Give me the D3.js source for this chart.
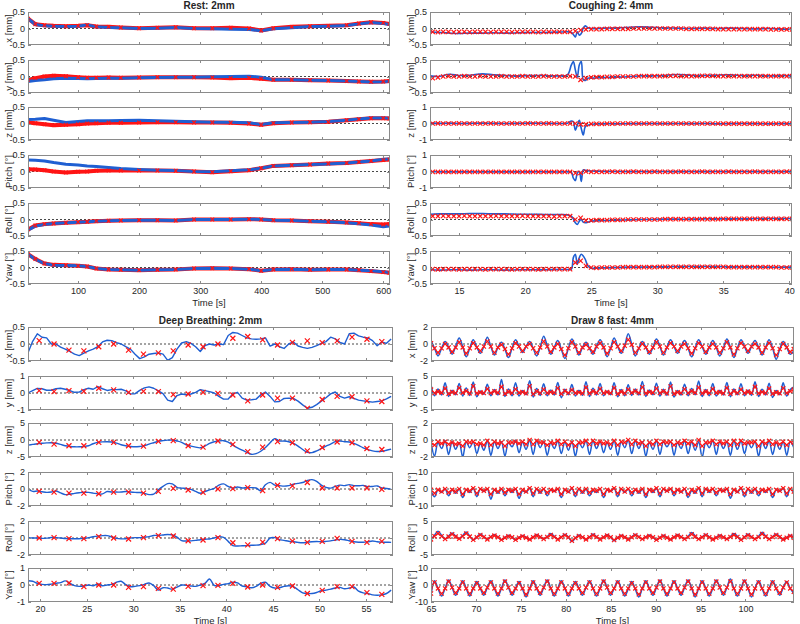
<!DOCTYPE html>
<meta charset="UTF-8">
<html>
<head>
  <style>
    body { margin: 0; background: #fff; }
    svg text { font-family: "Liberation Sans", Arial, sans-serif; fill: #262626; }
    .title { font-size: 10px; font-weight: bold; }
    .lab { font-size: 9.5px; }
    .tk { font-size: 9px; }
  </style>
</head>
<body>
<svg id="chart" width="800" height="624"></svg>
<script src="https://d3js.org/d3.v7.min.js"></script>
<script>
// ---------------- Rest: 2mm ----------------
const tRest = [18,30,45,60,80,100,115,130,150,170,200,230,260,290,320,350,380,400,420,450,480,510,540,560,580,600,610];
const restXBlue = [.30,.12,.08,.07,.06,.07,.11,.05,.03,.02,.00,.01,.03,.00,-.01,-.02,-.03,-.07,-.01,.02,.06,.07,.09,.14,.18,.15,.12];
const restXRed  = [.30,.13,.10,.08,.07,.08,.10,.06,.05,.03,.01,.02,.04,.01,.01,.02,.00,-.06,.01,.05,.07,.08,.10,.15,.19,.17,.14];
const restYBlue = [-.15,-.12,-.10,-.07,-.05,-.06,-.07,-.06,-.05,-.05,-.04,-.03,-.02,-.02,-.01,.00,.01,-.02,-.10,-.10,-.11,-.12,-.14,-.15,-.17,-.16,-.15];
const restYRed  = [-.10,-.05,.00,.02,.01,-.02,-.04,-.04,-.03,-.04,-.03,-.02,-.02,-.02,-.03,-.05,-.04,-.07,-.10,-.10,-.11,-.12,-.14,-.15,-.16,-.15,-.14];
const restZBlue = [.12,.13,.15,.10,.03,.06,.08,.08,.08,.09,.10,.08,.07,.05,.04,.04,.02,-.03,.02,.03,.04,.06,.10,.14,.17,.17,.16];
const restZRed  = [.03,.01,-.02,-.05,-.04,-.02,.00,.01,.02,.02,.03,.04,.04,.03,.03,.02,.00,-.04,.01,.03,.04,.05,.10,.13,.16,.16,.15];
const restPitchBlue = [.35,.34,.32,.27,.22,.20,.17,.15,.12,.09,.06,.04,.03,.00,-.01,.02,.05,.10,.17,.19,.21,.23,.26,.29,.32,.37,.38];
const restPitchRed  = [.07,.06,.04,.00,-.03,-.01,.00,.02,.03,.03,.03,.03,.02,.00,-.02,.01,.04,.10,.17,.19,.21,.24,.26,.29,.32,.35,.36];
const restRollBlue = [-.32,-.20,-.15,-.12,-.10,-.08,-.07,-.05,-.04,-.03,-.02,-.02,-.03,.00,.00,.00,.01,.00,-.02,-.03,-.05,-.07,-.10,-.13,-.17,-.22,-.20];
const restRollRed  = [-.30,-.18,-.14,-.12,-.10,-.08,-.07,-.05,-.04,-.03,-.02,-.02,-.03,.00,.00,.00,.01,.00,-.02,-.03,-.05,-.07,-.09,-.11,-.14,-.15,-.14];
const restYawBlue = [.40,.25,.12,.07,.06,.05,.03,-.03,-.06,-.07,-.08,-.07,-.06,-.03,-.02,-.03,-.05,-.10,-.06,-.05,-.07,-.06,-.06,-.08,-.10,-.13,-.15];
const restYawRed  = [.40,.26,.12,.08,.07,.05,.03,-.03,-.06,-.07,-.08,-.07,-.06,-.03,-.02,-.03,-.05,-.10,-.06,-.05,-.07,-.06,-.06,-.08,-.11,-.14,-.16];

// ---------------- Coughing 2: 4mm ----------------
const tCoughBlue = [12.8,13.5,14.3,15.0,15.8,16.8,17.6,18.5,19.5,20.5,21.5,22.5,23.2,23.5,23.65,23.8,23.95,24.1,24.25,24.4,24.55,24.75,25.0,25.5,26.0,27.0,28.0,28.7,29.5,30.5,31.5,32.5,33.5,34.5,35.5,36.5,37.5,38.5,39.5,40.2];
const tCoughRed = [13.0,13.4,13.8,14.2,14.6,15.0,15.4,15.8,16.2,16.6,17.0,17.4,17.8,18.2,18.6,19.0,19.4,19.8,20.2,20.6,21.0,21.4,21.8,22.2,22.6,23.0,23.4,
  23.8,24.2,24.6,
  25.0,25.4,25.8,26.2,26.6,27.0,27.4,27.8,28.2,28.6,29.0,29.4,29.8,30.2,30.6,31.0,31.4,31.8,32.2,32.6,33.0,33.4,33.8,34.2,34.6,35.0,35.4,35.8,36.2,36.6,37.0,37.4,37.8,38.2,38.6,39.0,39.4,39.8,40.2];
const coughXBlue = [-.10,-.12,-.14,-.15,-.14,-.14,-.13,-.14,-.13,-.12,-.12,-.11,-.10,-.12,
  -.18,-.26,-.10,-.20,-.15,.02,.08,.02,
  .00,.00,.01,.02,.04,.05,.04,.02,.01,.00,.01,.00,.01,.00,-.01,.00,-.02,-.02];
const coughXRed = [-.10,-.11,-.10,-.10,-.11,-.10,-.10,-.11,-.10, -.10,-.10,-.11,-.10,-.10,-.10,-.11,-.10,-.10, -.10,-.10,-.11,-.10,-.10,-.10,-.10,-.10,-.10,
  -.08,-.05,-.03,
  -.02,-.02,-.02,-.01,-.01,-.01,-.01,-.01,.00,.00, .00,.00,.00,.00,.00,.00,.00,.00,-.01,-.01, -.01,-.01,-.01,-.01,-.02,-.02,-.02,-.02,-.02,-.02, -.02,-.02,-.02,-.02,-.03,-.03,-.03,-.03,-.03];
const coughYBlue = [.02,.00,.07,.03,.04,.08,.05,.03,.02,.03,.03,.02,.05,.35,
  .45,.20,-.02,.35,.45,-.10,-.12,-.05,
  -.05,-.04,-.03,-.02,.00,.02,.02,.03,.06,.04,.03,.04,.05,.03,.04,.02,.03,.02];
const coughYRed = [-.05,-.03,.00,.01,.00,.00,.01,.00,.00, .01,.00,.00,.00,.01,.00,.00,.00,.01, .00,.00,.00,.01,.00,.00,.00,.00,.01,
  .00,-.10,-.05,
  -.03,-.02,-.02,-.01,-.01,.00,.00,.00,.00,.01, .01,.01,.01,.01,.01,.02,.02,.01,.01,.01, .01,.02,.02,.02,.01,.01,.01,.01,.01,.01, .01,.01,.01,.01,.01,.01,.01,.01,.01];
const coughZBlue = [.02,.01,.02,.00,.01,.02,.01,.00,.01,.02,.01,.00,.02,.15,
  .10,-.40,-.10,.20,-.30,-.70,-.20,-.10,
  -.05,-.03,-.02,-.02,-.01,-.01,.00,-.01,.00,-.01,.00,-.02,-.01,.00,-.01,-.02,-.01,-.02];
const coughZRed = [.00,.01,.00,.00,.00,.01,.00,.00,.00, .00,.00,.01,.00,.00,.00,.01,.00,.00, .01,.00,.00,.00,.01,.00,.00,.00,.00,
  .00,-.05,-.05,
  -.03,-.02,-.02,-.01,-.01,.00,.00,.00,.00,.00, .00,.00,.00,.00,.00,.00,.00,.00,.00,.00, .00,.00,.00,.00,.00,-.01,-.01,-.01,-.01,-.01, -.01,-.01,-.01,-.01,-.01,-.01,-.01,-.01,-.01];
const coughPitchBlue = [-.02,-.02,-.03,-.02,-.02,-.03,-.02,-.02,-.03,-.02,-.02,-.03,-.02,-.05,
  -.40,-.55,-.10,.00,-.60,.10,.08,.05,
  .03,.02,.01,.00,-.01,.00,-.01,.00,-.01,.00,-.01,.00,-.01,.00,-.01,.00,-.01,.00];
const coughPitchRed = [-.03,-.03,-.02,-.03,-.03,-.03,-.02,-.03,-.03, -.03,-.03,-.02,-.03,-.03,-.03,-.03,-.02,-.03, -.03,-.03,-.03,-.02,-.03,-.03,-.03,-.03,-.03,
  -.10,-.08,.00,
  -.02,-.02,-.02,-.02,-.01,-.02,-.02,-.02,-.01,-.02, -.02,-.02,-.01,-.02,-.02,-.02,-.02,-.01,-.02,-.02, -.02,-.01,-.02,-.02,-.02,-.02,-.01,-.02,-.02,-.02, -.02,-.01,-.02,-.02,-.02,-.02,-.02,-.01,-.02];
const coughRollBlue = [.16,.17,.17,.17,.18,.18,.17,.17,.16,.16,.15,.15,.14,.10,
  .02,-.10,-.15,-.05,.00,-.08,-.10,-.08,
  -.05,-.04,-.03,-.02,-.01,.00,.00,.01,.01,.01,.02,.02,.02,.02,.03,.03,.03,.03];
const coughRollRed = [.10,.10,.11,.10,.10,.10,.11,.10,.10, .10,.10,.10,.11,.10,.10,.10,.10,.11, .10,.10,.10,.10,.10,.09,.10,.10,.10,
  .00,.05,-.03,
  -.03,-.02,-.02,-.02,-.01,-.01,-.01,.00,.00,.00, .00,.00,.00,.00,.01,.01,.01,.01,.01,.01, .01,.01,.01,.01,.01,.02,.02,.02,.02,.02, .02,.02,.02,.02,.02,.02,.02,.02,.02];
const coughYawBlue = [-.07,-.08,-.07,-.07,-.08,-.07,-.07,-.08,-.07,-.07,-.07,-.06,-.06,-.05,
  .30,.40,.10,.30,.40,.35,.25,.05,
  -.02,-.02,-.01,.00,.01,.01,.02,.02,.03,.03,.03,.03,.02,.02,.02,.01,.01,.01];
const coughYawRed = [-.05,-.06,-.05,-.05,-.05,-.06,-.05,-.05,-.05, -.05,-.06,-.05,-.05,-.05,-.05,-.06,-.05,-.05, -.05,-.05,-.06,-.05,-.05,-.05,-.05,-.05,-.05,
  .15,.20,.05,
  .00,-.01,.00,.00,.00,.00,.01,.01,.01,.01, .01,.01,.01,.02,.02,.02,.02,.02,.02,.02, .02,.02,.02,.02,.02,.02,.01,.01,.01,.01, .01,.01,.01,.01,.01,.01,.00,.00,.00];

// ---------------- Deep Breathing: 2mm ----------------
const tDeepBlue = [18.7,19.2,19.7,20.2,20.7,21.2,21.7,22.2,22.7,23.2,23.7,24.2,24.7,25.2,25.7,26.2,26.7,27.2,27.7,28.2,
  28.7,29.2,29.7,30.2,30.7,31.2,31.7,32.2,32.7,33.2,33.7,34.2,34.7,35.2,35.7,36.2,36.7,37.2,37.7,38.2,
  38.7,39.2,39.7,40.2,40.7,41.2,41.7,42.2,42.7,43.2,43.7,44.2,44.7,45.2,45.7,46.2,46.7,47.2,47.7,48.2,
  48.7,49.2,49.7,50.2,50.7,51.2,51.7,52.2,52.7,53.2,53.7,54.2,54.7,55.2,55.7,56.2,56.7,57.2,57.7];
const tDeepRed = [19.9,21.5,23.1,24.7,26.3,27.9,29.5,31.1,32.7,34.3,35.9,37.5,39.1,40.7,42.3,43.9,45.5,47.1,48.7,50.3,51.9,53.5,55.1,56.7];
const deepXBlue = [-.26,.08,.30,.20,.18,.00,.00,-.09,-.15,-.22,
  -.30,-.34,-.27,-.20,-.15,-.08,.06,.11,.10,.04,
  .00,-.08,-.15,-.30,-.43,-.38,-.30,-.28,-.26,-.30,
  -.48,-.40,-.15,.03,.07,.02,-.08,-.22,-.05,.00,
  -.03,.00,-.02,.25,.34,.32,.25,.18,.15,.14,
  .15,.18,-.06,.00,-.08,-.13,.00,.06,-.06,-.10,
  -.13,-.10,-.05,.02,.07,.20,.15,.05,.00,.30,
  .32,.24,.20,.18,.10,-.05,.06,.02,.15];
const deepXRed = [.10,.00,-.18,-.20,-.08,.00,-.18,-.30,-.26,-.20,-.03,-.08,.00,.17,.22,.12,-.03,.05,.09,.04,.09,.20,.14,.07];
const deepYBlue = [.00,.14,.27,.25,.16,.16,.25,.28,.22,.14,
  .04,.05,.20,.28,.22,.38,.25,.15,.20,.20,
  .22,.12,-.05,-.04,.15,.30,.36,.28,.12,-.04,
  -.42,-.50,-.15,-.06,-.10,-.06,.04,.20,.14,.08,
  .00,-.20,-.36,-.35,-.05,.04,-.30,-.42,-.40,-.36,
  -.10,.06,-.20,-.52,-.50,-.32,-.30,-.32,-.48,-.70,
  -.90,-.84,-.68,-.48,-.28,-.05,.06,-.20,-.30,-.22,
  -.32,-.42,-.46,-.50,-.54,-.50,-.46,-.35,-.20];
const deepYRed = [.14,.08,.14,.10,.28,.18,.04,.10,.08,-.10,-.06,.04,-.02,-.12,-.46,-.12,-.30,-.30,-.90,-.38,-.20,-.22,-.46,-.50];
const deepZBlue = [-1.5,-1.3,-1.1,-.95,-.85,-.8,-.95,-1.3,-1.7,-1.9,
  -2.0,-2.0,-1.9,-1.7,-1.1,-.7,-.55,-.5,-.6,-.9,
  -1.4,-1.7,-1.9,-2.0,-1.9,-1.7,-1.2,-.8,-.4,-.2,
  -.05,0,-.3,-.7,-1.4,-1.8,-2.1,-2.3,-1.8,-1.0,
  -.5,-.3,-.2,-.6,-1.5,-2.3,-3.0,-3.6,-4.2,-4.0,
  -3.3,-2.2,-.8,.4,-.3,-.3,-.5,-1.0,-1.8,-2.8,
  -3.6,-3.7,-3.2,-2.5,-1.8,-1.2,-.5,-.3,-.5,-.6,
  -1.0,-1.6,-2.3,-2.8,-3.2,-3.4,-3.3,-3.0,-2.7];
const deepZRed = [-.7,-1.2,-1.7,-1.7,-.7,-.7,-1.7,-1.8,-.4,-.2,-1.7,-2.1,-.3,-1.3,-3.4,-2.1,-.5,-.8,-3.2,-2.2,-.6,-.8,-2.5,-2.8];
const deepPitchBlue = [0,-.28,-.24,-.32,-.4,-.36,-.24,-.46,-.66,-.62,
  -.52,-.44,-.38,-.4,-.48,-.58,-.58,-.3,-.36,-.36,
  -.36,-.3,-.36,-.4,-.42,-.52,-.66,-.6,-.1,.3,
  .64,.6,.2,.1,.06,-.04,-.28,-.5,-.3,-.1,
  .08,.45,.6,.3,.1,.24,.12,.16,.16,.12,
  -.2,.5,.78,.45,.4,.34,.4,.56,.66,.76,
  1.0,1.1,.9,.45,.2,.1,.3,.45,.4,.52,
  .4,.38,.42,.28,.3,.36,.12,.06,-.05];
const deepPitchRed = [-.28,-.36,-.48,-.48,-.56,-.36,-.36,-.48,-.28,.08,-.12,-.40,.00,.04,.16,-.20,.44,.36,.76,.12,.12,.12,.12,-.04];
const deepRollBlue = [.04,0,0,-.04,-.02,.06,.04,0,-.06,-.08,
  -.08,-.08,-.06,.04,.14,.22,.28,.28,.12,-.04,
  -.1,-.08,0,.04,.04,.1,.16,.3,.3,.36,
  .42,.36,.1,-.3,-.36,-.34,-.28,-.2,-.14,-.12,
  0,.16,.06,-.4,-.9,-.94,-.92,-.9,-.86,-.84,
  -.76,-.6,0,.04,-.2,-.28,-.38,-.44,-.52,-.56,
  -.5,-.44,-.42,-.44,-.4,-.34,-.24,-.16,-.2,-.32,
  -.44,-.5,-.5,-.44,-.36,-.44,-.48,-.5,-.52];
const deepRollRed = [.00,.04,-.08,-.08,.16,.00,-.12,.04,.28,.24,-.32,-.24,.04,-.56,-.80,-.48,-.08,-.36,-.52,-.40,-.04,-.40,-.52,-.40];
const deepYawBlue = [.25,.22,.1,.04,.02,.05,.1,.14,.24,.1,
  -.04,-.08,-.06,0,-.04,.06,-.04,0,.04,.16,
  .22,.02,-.1,-.08,-.04,.04,.12,-.04,-.3,-.16,
  -.18,-.24,-.12,0,-.02,-.06,-.08,0,.1,.35,
  -.02,-.04,.04,.08,.16,.12,-.06,-.1,-.16,-.08,
  .1,.16,-.08,-.18,-.16,-.08,-.04,-.1,-.28,-.46,
  -.5,-.5,-.44,-.34,-.3,-.24,-.18,-.14,-.22,-.18,
  -.12,-.36,-.46,-.5,-.58,-.6,-.58,-.5,-.3];
const deepYawRed = [.10,.10,.12,-.10,.00,.00,-.14,-.10,-.20,-.24,-.08,-.04,-.02,.10,-.12,.00,-.14,-.06,-.50,-.32,-.10,-.10,-.45,-.55];

// ---------------- Draw 8 fast: 4mm ----------------
const tDraw8 = [65.00,65.39,65.78,66.18,66.57,66.96,67.35,67.74,68.14,68.53,68.92,69.31,69.70,70.10,70.49,70.88,
  71.27,71.66,72.06,72.45,72.84,73.23,73.62,74.02,74.41,74.80,75.19,75.58,75.98,76.37,76.76,77.15,
  77.54,77.94,78.33,78.72,79.11,79.50,79.90,80.29,80.68,81.07,81.46,81.86,82.25,82.64,83.03,83.42,
  83.82,84.21,84.60,84.99,85.38,85.78,86.17,86.56,86.95,87.34,87.74,88.13,88.52,88.91,89.30,89.70,
  90.09,90.48,90.87,91.26,91.66,92.05,92.44,92.83,93.22,93.62,94.01,94.40,94.79,95.18,95.58,95.97,
  96.36,96.75,97.14,97.54,97.93,98.32,98.71,99.10,99.50,99.89,100.28,100.67,101.06,101.46,101.85,102.24,
  102.63,103.02,103.42,103.81,104.20,104.59,104.98,105.38];
const draw8XBlue = [0.4,-0.5,-1.4,-0.5, 0.3,-0.4,-1.2,-0.3, 0.7,-0.3,-1.5,-0.5, 0.5,-0.4,-1.1,-0.3,
  0.8,-0.3,-1.3,-0.4, 0.2,-0.6,-1.6,-0.5, 0.5,-0.3,-1.0,-0.3, 0.3,-0.5,-1.4,-0.4,
  0.9,-0.2,-1.2,-0.4, 0.4,-0.6,-1.7,-0.5, 0.6,-0.3,-1.3,-0.4, 0.2,-0.5,-1.2,-0.3,
  0.5,-0.4,-1.5,-0.5, 0.7,-0.3,-1.1,-0.2, 1.2,0.0,-1.4,-0.5, 0.3,-0.4,-1.2,-0.4,
  0.6,-0.3,-1.3,-0.4, 0.5,-0.3,-1.1,-0.3, 0.4,-0.5,-1.5,-0.5, 0.5,-0.3,-1.2,-0.4,
  0.4,-0.4,-1.4,-0.5, 0.6,-0.4,-1.6,-0.5, 0.5,-0.3,-1.1,-0.3, 0.4,-0.4,-1.3,-0.4,
  0.5,-0.5,-1.8,-0.6, 0.3,-0.4,-1.2,-0.8];
const draw8XRed = [0.1,-0.5,-1.0,-0.5, 0.0,-0.4,-0.9,-0.4, 0.2,-0.4,-1.1,-0.5, 0.1,-0.4,-0.8,-0.3,
  0.3,-0.3,-1.0,-0.4, -0.1,-0.6,-1.2,-0.5, 0.1,-0.3,-0.8,-0.3, 0.0,-0.5,-1.0,-0.4,
  0.3,-0.3,-0.9,-0.4, 0.0,-0.6,-1.3,-0.5, 0.2,-0.3,-1.0,-0.4, -0.1,-0.5,-0.9,-0.3,
  0.1,-0.4,-1.1,-0.5, 0.2,-0.3,-0.8,-0.2, 0.5,-0.1,-1.0,-0.5, 0.0,-0.4,-0.9,-0.4,
  0.2,-0.3,-1.0,-0.4, 0.1,-0.3,-0.8,-0.3, 0.0,-0.5,-1.1,-0.5, 0.1,-0.3,-0.9,-0.4,
  0.0,-0.4,-1.0,-0.5, 0.2,-0.4,-1.2,-0.5, 0.1,-0.3,-0.8,-0.3, 0.0,-0.4,-1.0,-0.4,
  0.1,-0.5,-1.3,-0.6, 0.0,-0.4,-0.9,-0.6];
const draw8YBlue = [2.5,-0.8,1.2,-0.6, 3.0,-1.0,0.8,-0.5, 2.8,-0.9,1.5,-0.7, 3.2,-1.1,0.6,-0.4,
  2.6,-0.8,1.0,-0.6, 4.0,-1.0,1.2,-0.8, 3.0,-0.9,0.7,-0.5, 3.6,-1.2,1.3,-0.7,
  2.7,-0.8,0.9,-0.6, 3.1,-1.4,1.1,-0.5, 2.5,-0.9,0.8,-0.7, 3.3,-1.0,1.4,-0.6,
  2.8,-0.8,0.6,-0.5, 3.0,-1.1,1.0,-0.8, 2.4,-0.7,1.2,-0.6, 3.4,-1.0,0.9,-0.5,
  2.9,-0.9,1.1,-0.7, 3.2,-1.2,0.7,-0.6, 2.6,-0.8,1.3,-0.5, 3.5,-1.0,1.0,-0.8,
  2.8,-0.9,0.8,-0.6, 3.1,-1.1,1.2,-0.5, 2.7,-0.8,0.9,-0.7, 3.3,-1.0,1.1,-0.6,
  2.9,-1.3,0.7,-0.5, 3.0,-0.9,1.0,1.8];
const draw8YRed = [1.0,0.0,0.4,0.1, 1.3,-0.2,0.3,0.0, 1.5,0.1,0.6,-0.1, 2.0,-0.1,0.2,0.0,
  1.2,0.0,0.5,0.1, 1.8,-0.2,0.4,0.0, 1.1,0.1,0.3,-0.1, 2.0,-0.3,0.5,0.0,
  1.0,0.0,0.3,0.1, 1.4,-0.2,0.6,0.0, 0.9,0.0,0.2,-0.1, 1.6,-0.1,0.5,0.1,
  1.2,0.0,0.3,0.0, 1.5,-0.2,0.4,-0.1, 1.0,0.1,0.6,0.0, 1.7,-0.1,0.3,0.1,
  1.3,0.0,0.5,-0.1, 1.9,-0.2,0.2,0.0, 1.1,0.0,0.6,0.1, 1.6,-0.1,0.4,0.0,
  1.2,0.1,0.3,-0.1, 1.5,-0.2,0.5,0.0, 1.0,0.0,0.4,0.1, 1.8,-0.1,0.3,0.0,
  1.3,-0.2,0.2,-0.1, 1.4,0.0,0.5,1.0];
const draw8ZBlue = [-0.2,-1.9,-0.3,-1.0, -0.1,-1.7,-0.2,-1.1, -0.3,-2.0,-0.2,-0.9, -0.2,-1.6,-0.4,-1.2,
  -0.1,-1.8,-0.2,-1.0, -0.2,-1.9,-0.3,-0.8, -0.1,-1.5,-0.2,-1.1, 0.0,-1.7,-0.1,-0.9,
  -0.2,-1.8,-0.3,-1.0, -0.1,-1.6,-0.2,-1.2, -0.2,-1.9,-0.3,-0.9, -0.1,-1.7,-0.1,-1.0,
  -0.2,-1.5,-0.3,-1.1, -0.1,-1.8,-0.2,-0.9, 0.0,-1.6,-0.1,-1.0, -0.2,-1.9,-0.3,-1.1,
  -0.1,-1.7,-0.2,-0.8, -0.2,-1.8,-0.3,-1.0, -0.1,-1.6,-0.2,-1.2, -0.2,-2.0,-0.3,-0.9,
  -0.1,-1.7,-0.2,-1.0, -0.2,-1.8,-0.1,-1.1, -0.1,-1.6,-0.3,-0.9, -0.2,-1.9,-0.2,-1.0,
  -0.1,-1.7,-0.3,-1.1, -0.2,-1.8,-0.2,-0.9];
const draw8ZRed = [-0.3,-0.6,-0.2,-0.4, -0.2,-0.5,-0.3,-0.5, -0.4,-0.7,-0.2,-0.3, -0.2,-0.5,-0.4,-0.6,
  -0.1,-0.6,-0.2,-0.4, -0.3,-0.7,-0.3,-0.3, -0.2,-0.4,-0.2,-0.5, 0.0,-0.5,-0.1,-0.3,
  -0.3,-0.6,-0.3,-0.4, -0.1,-0.5,-0.2,-0.6, -0.3,-0.7,-0.3,-0.3, -0.1,-0.5,-0.1,-0.4,
  -0.2,-0.4,-0.3,-0.5, -0.1,-0.6,-0.2,-0.3, 0.0,-0.5,-0.1,-0.4, -0.3,-0.7,-0.3,-0.5,
  -0.1,-0.5,-0.2,-0.3, -0.2,-0.6,-0.3,-0.4, -0.1,-0.4,-0.2,-0.6, 0.0,-0.7,-0.3,-0.3,
  -0.1,-0.5,-0.2,-0.4, -0.2,-0.6,-0.1,-0.5, -0.1,-0.4,-0.3,-0.3, -0.2,-0.7,-0.2,-0.4,
  -0.1,-0.5,-0.3,-0.5, -0.2,-0.6,-0.2,-0.3];
const draw8PitchBlue = [-1,-4.5,-0.5,-2, 0,-4,-0.5,-2.5, 0,-5,-0.5,-2, 0.5,-4.5,0,-1.5,
  0,-6,-0.5,-2.5, 0,-4,-0.5,-2, 0,-5.5,-1,-2, 0.5,-4.5,0,-2.5,
  0,-4,-0.5,-1.5, 0,-5,-0.5,-2, 0.5,-4.5,0,-2.5, 0,-4,-1,-2,
  0,-5,-0.5,-1.5, 0.5,-4.5,0,-2, 0,-4,-0.5,-2.5, 0,-5,-0.5,-2,
  0.5,-4.5,0,-1.5, 0,-4,-0.5,-2, 0,-5,-1,-2.5, 0.5,-4.5,0,-2,
  0,-4,-0.5,-1.5, 0,-5.5,-0.5,-2, 0.5,-4.5,0,-2.5, 0,-4,-0.5,-2,
  0,-5,-0.5,-1.5, 0.5,-4.5,0,-2];
const draw8PitchRed = [-0.5,-2.5,-0.5,-1.5, 0,-2,-0.5,-1.5, 0,-3,-0.5,-1, 0.5,-2.5,0,-1,
  0,-3,-0.5,-1.5, 0,-2,-0.5,-1, 0,-3,-0.5,-1.5, 0.5,-2.5,0,-1.5,
  0,-2,-0.5,-1, 0,-3,-0.5,-1.5, 0.5,-2.5,0,-1.5, 0,-2,-0.5,-1,
  0,-3,-0.5,-1, 0.5,-2.5,0,-1.5, 0,-2,-0.5,-1.5, 0,-3,-0.5,-1,
  0.5,-2.5,0,-1, 0,-2,-0.5,-1.5, 0,-3,-0.5,-1.5, 0.5,-2.5,0,-1,
  0,-2,-0.5,-1, 0,-3,-0.5,-1.5, 0.5,-2.5,0,-1.5, 0,-2,-0.5,-1,
  0,-3,-0.5,-1, 0.5,-2.5,0,-1.5];
const draw8RollBlue = [-0.5,0.8,2.0,0.8, -0.3,0.6,1.5,0.6, -0.2,0.7,1.8,0.6, -0.6,0.3,1.2,0.4,
  -0.4,0.4,1.0,0.3, -0.5,0.2,0.8,0.3, -0.6,0.2,0.7,0.2, -0.5,0.3,1.0,0.4,
  -0.3,0.4,1.3,0.5, -0.4,0.3,1.1,0.3, -1.0,0.0,0.9,0.3, -0.5,0.3,1.2,0.4,
  -0.4,0.3,1.0,0.3, -0.8,0.1,0.8,0.3, -0.5,0.3,1.1,0.4, -0.4,0.3,0.9,0.3,
  -0.6,0.2,0.8,0.2, -0.5,0.3,1.0,0.4, -0.3,0.5,1.6,0.6, -0.4,0.3,1.1,0.3,
  -0.5,0.2,0.9,0.3, -0.4,0.4,1.3,0.5, -0.6,0.3,1.2,0.4, -0.3,0.5,1.7,0.6,
  -0.4,0.4,1.2,0.4, -0.5,0.2,0.8,0.2];
const draw8RollRed = [-0.4,0.5,1.3,0.5, -0.3,0.4,1.1,0.4, -0.2,0.5,1.3,0.4, -0.5,0.2,0.9,0.3,
  -0.4,0.3,0.7,0.2, -0.5,0.1,0.5,0.2, -0.5,0.1,0.5,0.1, -0.4,0.2,0.7,0.3,
  -0.3,0.3,0.9,0.3, -0.4,0.2,0.8,0.2, -0.8,0.0,0.6,0.2, -0.4,0.2,0.8,0.3,
  -0.4,0.2,0.7,0.2, -0.6,0.1,0.6,0.2, -0.4,0.2,0.8,0.3, -0.3,0.2,0.6,0.2,
  -0.5,0.1,0.6,0.1, -0.4,0.2,0.7,0.3, -0.3,0.3,1.1,0.4, -0.3,0.2,0.8,0.2,
  -0.4,0.1,0.6,0.2, -0.3,0.3,0.9,0.3, -0.5,0.2,0.8,0.3, -0.3,0.3,1.2,0.4,
  -0.3,0.3,0.9,0.3, -0.4,0.1,0.6,0.1];
const draw8YawBlue = [-6,
  2.5,-2,-6.5,-2, 3,-1.5,-6,-2, 2.5,-2,-6.5,-2, 2,-2,-6,-1.5, 2.5,-2,-6.5,-2,
  3,-1.5,-6,-2, 2,-2.5,-7,-2, 2.5,-2,-6,-1.5, 3,-2,-6.5,-2, 2.5,-2,-6.5,-2,
  2,-2,-6,-1.5, 2.5,-2,-6.5,-2, 3,-1.5,-6,-2, 2.5,-2,-6.5,-2.5, 2,-2.5,-7,-2,
  2.5,-2,-6,-1.5, 3,-2,-6.5,-2, 2.5,-2,-6,-1.5, 3,-2,-7,-2, 2.5,-2,-6.5,-2,
  3,-1.5,-6,-1.5, 3.5,-2,-6.5,-2, 3,-2,-7,-2, 2.5,-2,-6.5,-2, 2.5,-2,-6,-1.5,
  2,-2,-5];
const draw8YawRed = [-5,
  1.5,-2,-5,-2, 2,-1.5,-4.5,-2, 1.5,-2,-5,-2, 1,-2,-4.5,-1.5, 1.5,-2,-5,-2,
  2,-1.5,-4.5,-2, 1,-2,-5.5,-2, 1.5,-2,-4.5,-1.5, 2,-2,-5,-2, 1.5,-2,-5,-2,
  1,-2,-4.5,-1.5, 1.5,-2,-5,-2, 2,-1.5,-4.5,-2, 1.5,-2,-5,-2, 1,-2,-5.5,-2,
  1.5,-2,-4.5,-1.5, 2,-2,-5,-2, 1.5,-2,-4.5,-1.5, 2,-2,-5.5,-2, 1.5,-2,-5,-2,
  2,-1.5,-4.5,-1.5, 2,-2,-5,-2, 2,-2,-5.5,-2, 1.5,-2,-5,-2, 1.5,-2,-4.5,-1.5,
  1.5,-2,-4];

// ---------------- axes settings ----------------
const rowLabels = ["x [mm]", "y [mm]", "z [mm]", "Pitch [°]", "Roll [°]", "Yaw [°]"];
const half = [-0.5, 0, 0.5], one = [-1, 0, 1], two = [-2, 0, 2], five = [-5, 0, 5], ten = [-10, 0, 10];

const blue = "#1f5fd2", red = "#ff1414";
const svg = d3.select("#chart");

const panels = [
  {
    key: "rest", title: "Rest: 2mm", left: 28, right: 390, tops: [12, 60, 107, 155, 203, 251], h: 33,
    domain: [18, 611], ticks: [100, 200, 300, 400, 500, 600], titleY: 9, timeY: 305.5, tickPad: 3.5,
    tBlue: tRest, tRed: tRest, blueWidth: 3, band: true, mark: 1.8, curve: d3.curveLinear,
    rows: [
      { ticks: half, blue: restXBlue, red: restXRed },
      { ticks: half, blue: restYBlue, red: restYRed },
      { ticks: half, blue: restZBlue, red: restZRed },
      { ticks: half, blue: restPitchBlue, red: restPitchRed },
      { ticks: half, blue: restRollBlue, red: restRollRed },
      { ticks: half, blue: restYawBlue, red: restYawRed }
    ]
  },
  {
    key: "cough", title: "Coughing 2: 4mm", left: 430, right: 792, tops: [12, 60, 107, 155, 203, 251], h: 33,
    domain: [12.8, 40.2], ticks: [15, 20, 25, 30, 35, 40], titleY: 9, timeY: 305.5, tickPad: 3.5,
    tBlue: tCoughBlue, tRed: tCoughRed, blueWidth: 1.6, mark: 2.2, curve: d3.curveCatmullRom,
    rows: [
      { ticks: half, blue: coughXBlue, red: coughXRed },
      { ticks: half, blue: coughYBlue, red: coughYRed },
      { ticks: one, blue: coughZBlue, red: coughZRed },
      { ticks: one, blue: coughPitchBlue, red: coughPitchRed },
      { ticks: half, blue: coughRollBlue, red: coughRollRed },
      { ticks: half, blue: coughYawBlue, red: coughYawRed }
    ]
  },
  {
    key: "deep", title: "Deep Breathing: 2mm", left: 28, right: 393, tops: [327, 376, 423, 472, 521, 568], h: 34,
    domain: [18.7, 57.9], ticks: [20, 25, 30, 35, 40, 45, 50, 55], titleY: 324, timeY: 623.5, tickPad: 4,
    tBlue: tDeepBlue, tRed: tDeepRed, blueWidth: 1.4, mark: 2.5, curve: d3.curveCatmullRom,
    rows: [
      { ticks: half, blue: deepXBlue, red: deepXRed, curve: d3.curveLinear },
      { ticks: one, blue: deepYBlue, red: deepYRed, curve: d3.curveLinear },
      { ticks: five, blue: deepZBlue, red: deepZRed },
      { ticks: two, blue: deepPitchBlue, red: deepPitchRed },
      { ticks: two, blue: deepRollBlue, red: deepRollRed },
      { ticks: one, blue: deepYawBlue, red: deepYawRed }
    ]
  },
  {
    key: "draw8", title: "Draw 8 fast: 4mm", left: 431, right: 794, tops: [327, 376, 423, 472, 521, 568], h: 34,
    domain: [65, 105.4], ticks: [65, 70, 75, 80, 85, 90, 95, 100], titleY: 324, timeY: 623.5, tickPad: 4,
    tBlue: tDraw8, tRed: tDraw8, blueWidth: 1.5, mark: 2.1, redLine: true, curve: d3.curveCatmullRom,
    rows: [
      { ticks: two, blue: draw8XBlue, red: draw8XRed },
      { ticks: five, blue: draw8YBlue, red: draw8YRed },
      { ticks: two, blue: draw8ZBlue, red: draw8ZRed },
      { ticks: ten, blue: draw8PitchBlue, red: draw8PitchRed },
      { ticks: five, blue: draw8RollBlue, red: draw8RollRed },
      { ticks: ten, blue: draw8YawBlue, red: draw8YawRed }
    ]
  }
];

function styleAxis(a) {
  a.select(".domain").remove();
  a.selectAll(".tick line").attr("stroke", "#8a8a8a").attr("shape-rendering", "crispEdges");
  a.selectAll(".tick text").attr("class", "tk").attr("fill", "#262626");
  a.attr("font-family", null).attr("font-size", null);
}

function drawPanel(p) {
  const x = d3.scaleLinear().domain(p.domain).range([p.left, p.right]);
  const g = svg.append("g");

  g.append("text").attr("class", "title")
    .attr("x", (p.left + p.right) / 2).attr("y", p.titleY)
    .attr("text-anchor", "middle").text(p.title);

  p.rows.forEach(function (r, i) {
    const top = p.tops[i], bot = top + p.h, last = i === p.rows.length - 1;
    const lim = [r.ticks[0], r.ticks[r.ticks.length - 1]];
    const y = d3.scaleLinear().domain(lim).range([bot, top]);
    const id = "clip-" + p.key + i;

    g.append("clipPath").attr("id", id).append("rect")
      .attr("x", p.left).attr("y", top).attr("width", p.right - p.left).attr("height", p.h);
    const plot = g.append("g").attr("clip-path", "url(#" + id + ")");

    // dotted zero reference
    plot.append("line")
      .attr("x1", p.left).attr("x2", p.right).attr("y1", y(0)).attr("y2", y(0))
      .attr("stroke", "#333").attr("stroke-width", 0.9).attr("stroke-dasharray", "2,2");

    const bluePts = d3.zip(p.tBlue, r.blue);
    const redPts = d3.zip(p.tRed, r.red);
    const line = d3.line().x(d => x(d[0])).y(d => y(d[1])).curve(r.curve || p.curve);

    if (p.band) {
      plot.append("path").datum(redPts).attr("d", line)
        .attr("fill", "none").attr("stroke", red).attr("stroke-width", 4).attr("stroke-linejoin", "round");
    }
    plot.append("path").datum(bluePts).attr("d", line)
      .attr("fill", "none").attr("stroke", blue).attr("stroke-width", p.blueWidth).attr("stroke-linejoin", "round");
    if (p.redLine) {
      plot.append("path").datum(redPts).attr("d", line)
        .attr("fill", "none").attr("stroke", red).attr("stroke-width", 0.8);
    }
    const s = p.mark;
    plot.selectAll(".rx").data(redPts).join("path")
      .attr("class", "rx")
      .attr("transform", d => "translate(" + x(d[0]) + "," + y(d[1]) + ")")
      .attr("d", "M" + (-s) + "," + (-s) + "L" + s + "," + s + "M" + (-s) + "," + s + "L" + s + "," + (-s))
      .attr("stroke", red).attr("stroke-width", 1.2).attr("fill", "none");

    // axes: ticks inside on all four sides
    g.append("g").attr("transform", "translate(" + p.left + ",0)")
      .call(d3.axisLeft(y).tickValues(r.ticks).tickSize(-3).tickPadding(3).tickFormat(d => String(d)))
      .call(styleAxis);
    g.append("g").attr("transform", "translate(" + p.right + ",0)")
      .call(d3.axisRight(y).tickValues(r.ticks).tickSize(-3).tickFormat(""))
      .call(styleAxis);
    g.append("g").attr("transform", "translate(0," + bot + ")")
      .call(d3.axisBottom(x).tickValues(p.ticks).tickSize(-3).tickPadding(p.tickPad)
        .tickFormat(last ? (d => String(d)) : ""))
      .call(styleAxis);
    g.append("g").attr("transform", "translate(0," + top + ")")
      .call(d3.axisTop(x).tickValues(p.ticks).tickSize(-3).tickFormat(""))
      .call(styleAxis);

    g.append("rect")
      .attr("x", p.left + 0.5).attr("y", top + 0.5)
      .attr("width", p.right - p.left - 1).attr("height", p.h - 1)
      .attr("fill", "none").attr("stroke", "#8a8a8a").attr("shape-rendering", "crispEdges");

    g.append("text").attr("class", "lab")
      .attr("transform", "translate(" + (p.left - 16) + "," + ((top + bot) / 2) + ") rotate(-90)")
      .attr("text-anchor", "middle").text(rowLabels[i]);
  });

  g.append("text").attr("class", "lab")
    .attr("x", (p.left + p.right) / 2).attr("y", p.timeY)
    .attr("text-anchor", "middle").text("Time [s]");
}

panels.forEach(drawPanel);
</script>
</body>
</html>
